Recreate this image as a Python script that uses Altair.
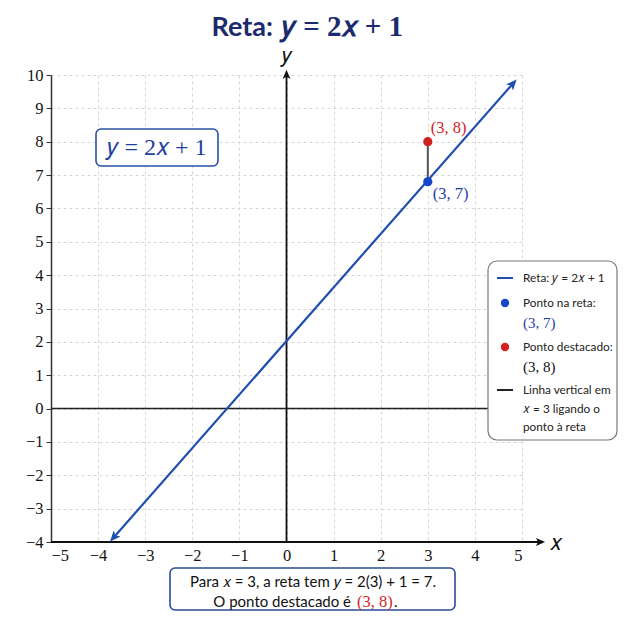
import math
import altair as alt
import pandas as pd

# ---------------- data ----------------
X_TICKS = [-5, -4, -3, -2, -1, 0, 1, 2, 3, 4, 5]
Y_TICKS = [-4, -3, -2, -1, 0, 1, 2, 3, 4, 5, 6, 7, 8, 9, 10]
LINE_X = [-3.66, 4.8]
LINE_Y = [-3.85, 9.73]
POINT_X = [3]
POINT_Y = [6.8]          # blue point on the line (labelled (3, 7))
HIGH_X = [3]
HIGH_Y = [8]             # red highlighted point
AXIS_Y_TOP = 10          # top of the vertical y axis arrow
AXIS_X_END = 5.38        # end of the horizontal axis arrow

# ---------------- styles ----------------
SANS = "Lato"
SERIF = "Liberation Serif"
MY, MX = "\U0001D466", "\U0001D465"
NAVY = "#1c2a6e"
BLUE_LINE = "#1f4fae"
BLUE_DOT = "#1548c8"
BLUE_TXT = "#1f3f9f"
RED = "#d21f1f"

W, H = 471, 467
XD, YD = [-5, 5], [-4, 10]
xs = alt.Scale(domain=XD, nice=False, zero=False)
ys = alt.Scale(domain=YD, nice=False, zero=False)
PXX = W / (XD[1] - XD[0])
PXY = H / (YD[1] - YD[0])
ARROW = "M0,-1L0.75,0.75L0,0.35L-0.75,0.75Z"

ang = math.degrees(math.atan2((LINE_X[1] - LINE_X[0]) * PXX, (LINE_Y[1] - LINE_Y[0]) * PXY))

one = pd.DataFrame({"a": [0]})

XAXIS = alt.Axis(
    values=X_TICKS, format="d", grid=True, gridDash=[3, 3], gridColor="#d6d6d6",
    domain=False, ticks=False, labelFont=SERIF,
    labelFontSize=16.5, labelColor="#111", labelPadding=5, title=None)
YAXIS = alt.Axis(
    values=Y_TICKS, format="d", grid=True, gridDash=[3, 3], gridColor="#d6d6d6",
    domain=True, domainColor="#333", domainWidth=1.5, ticks=True, tickSize=5,
    tickColor="#333", labelFont=SERIF, labelFontSize=16.5, labelColor="#111",
    labelPadding=3, title=None)


def X(field="x"):
    return alt.X(f"{field}:Q", scale=xs, axis=XAXIS)


def Y(field="y"):
    return alt.Y(f"{field}:Q", scale=ys, axis=YAXIS)


zero_line = alt.Chart(pd.DataFrame({"x": [XD[0]], "x2": [XD[1]], "y": [0]})).mark_rule(
    color="#222", strokeWidth=1.6).encode(x=X(), x2="x2:Q", y=Y())
yaxis_line = alt.Chart(pd.DataFrame({"x": [0], "y": [YD[0]], "y2": [AXIS_Y_TOP]})).mark_rule(
    color="#111", strokeWidth=1.8).encode(x=X(), y=Y(), y2="y2:Q")
yaxis_arrow = alt.Chart(pd.DataFrame({"x": [0], "y": [AXIS_Y_TOP]})).mark_point(
    shape=ARROW, filled=True, color="#111", size=110, opacity=1).encode(x=X(), y=Y())
xaxis_line = alt.Chart(pd.DataFrame({"x": [XD[0]], "x2": [AXIS_X_END], "y": [YD[0]]})).mark_rule(
    color="#111", strokeWidth=1.8).encode(x=X(), x2="x2:Q", y=Y())
xaxis_arrow = alt.Chart(pd.DataFrame({"x": [AXIS_X_END], "y": [YD[0]]})).mark_point(
    shape=ARROW, filled=True, color="#111", size=110, opacity=1, angle=90).encode(x=X(), y=Y())

y_lab = alt.Chart(pd.DataFrame({"x": [0], "y": [AXIS_Y_TOP]})).mark_text(
    text=MY, font=SERIF, fontSize=21, color="#111", dy=-19).encode(x=X(), y=Y())
x_lab = alt.Chart(pd.DataFrame({"x": [AXIS_X_END], "y": [YD[0]]})).mark_text(
    text=MX, font=SERIF, fontSize=22, color="#111", align="left", dx=10, dy=1).encode(x=X(), y=Y())

line = alt.Chart(pd.DataFrame({"x": LINE_X, "y": LINE_Y})).mark_line(
    color=BLUE_LINE, strokeWidth=2.2).encode(x=X(), y=Y())
arrows = alt.Chart(pd.DataFrame({"x": LINE_X, "y": LINE_Y, "a": [ang + 180, ang]})).mark_point(
    shape=ARROW, filled=True, color=BLUE_LINE, size=150, opacity=1).encode(
    x=X(), y=Y(), angle=alt.Angle("a:Q", scale=None))

seg = alt.Chart(pd.DataFrame({"x": POINT_X, "y": POINT_Y, "y2": HIGH_Y})).mark_rule(
    color="#555", strokeWidth=2).encode(x=X(), y=Y(), y2="y2:Q")
p_blue = alt.Chart(pd.DataFrame({"x": POINT_X, "y": POINT_Y})).mark_circle(
    color=BLUE_DOT, size=85, opacity=1).encode(x=X(), y=Y())
p_red = alt.Chart(pd.DataFrame({"x": HIGH_X, "y": HIGH_Y})).mark_circle(
    color=RED, size=85, opacity=1).encode(x=X(), y=Y())
lab_blue = alt.Chart(pd.DataFrame({"x": POINT_X, "y": POINT_Y})).mark_text(
    text="(3, 7)", font=SERIF, fontSize=16.5, color=BLUE_TXT, align="left", dx=5, dy=12).encode(x=X(), y=Y())
lab_red = alt.Chart(pd.DataFrame({"x": HIGH_X, "y": HIGH_Y})).mark_text(
    text="(3, 8)", font=SERIF, fontSize=16.5, color=RED, align="left", dx=3, dy=-14).encode(x=X(), y=Y())


def box(x1, x2, y1, y2, stroke, sw=1.5, r=6):
    return alt.Chart(one).mark_rect(fill="white", stroke=stroke, strokeWidth=sw, cornerRadius=r).encode(
        x=alt.value(x1), x2=alt.value(x2), y=alt.value(y1), y2=alt.value(y2))


def txt(text, x, y, font=SANS, size=11.8, color="#222", align="left", weight="normal",
        baseline="middle"):
    return alt.Chart(one).mark_text(text=text, font=font, fontSize=size, color=color, align=align,
                                    baseline=baseline, fontWeight=weight).encode(
        x=alt.value(x), y=alt.value(y))


def seg_sym(x1, x2, y, color):
    return alt.Chart(one).mark_rule(color=color, strokeWidth=2).encode(
        x=alt.value(x1), x2=alt.value(x2), y=alt.value(y))


def dot(x, y, color):
    return alt.Chart(one).mark_circle(color=color, size=70, opacity=1).encode(
        x=alt.value(x), y=alt.value(y))


eq_box = box(45, 167, 54, 91, "#2a50a8", 1.6, 5)
eq_txt = txt(f"{MY} = 2{MX} + 1", 106, 73, font=SERIF, size=24, color=BLUE_TXT, align="center")

leg = [
    box(437, 566, 186, 365, "#777", 1.2, 9),
    seg_sym(446, 462, 203, BLUE_LINE),
    txt(f"Reta: {MY} = 2{MX} + 1", 472, 203),
    dot(454, 228, BLUE_DOT),
    txt("Ponto na reta:", 472, 228),
    txt("(3, 7)", 472, 248, font=SERIF, size=15, color=BLUE_TXT),
    dot(454, 272, RED),
    txt("Ponto destacado:", 472, 272),
    txt("(3, 8)", 472, 292, font=SERIF, size=15, color="#111"),
    seg_sym(446, 462, 315, "#222"),
    txt("Linha vertical em", 472, 315),
    txt(f"{MX} = 3 ligando o", 472, 334),
    txt("ponto à reta", 472, 352),
]

note = [
    box(119, 404, 493, 535, "#2a4a9a", 1.6, 5),
    txt(f"Para {MX} = 3, a reta tem  {MY} = 2(3) + 1 = 7.", 262, 507, size=15, color="#111", align="center"),
    txt("O ponto destacado é", 300, 527, size=15, color="#111", align="right"),
    txt("(3, 8)", 306, 527, font=SERIF, size=16.5, color=RED),
    txt(".", 343, 527, size=15, color="#111"),
]

title = [
    txt("Reta:", 222, -39, size=27, color=NAVY, align="right", weight="bold", baseline="alphabetic"),
    txt(f"{MY} = 2{MX} + 1", 231, -39, font=SERIF, size=29, color=NAVY, weight="bold", baseline="alphabetic"),
]

chart = alt.layer(
    zero_line, xaxis_line, xaxis_arrow, yaxis_line, yaxis_arrow, y_lab, x_lab,
    eq_box, eq_txt, line, arrows, seg, p_blue, p_red, lab_blue, lab_red,
    *leg, *note, *title,
).properties(
    width=W, height=H,
    autosize=alt.AutoSizeParams(type="none"),
    padding={"left": 43, "top": 67, "right": 97, "bottom": 70},
    background="white",
).configure_view(stroke=None)

chart.save("out.html", embed_options={"renderer": "svg", "actions": False})
